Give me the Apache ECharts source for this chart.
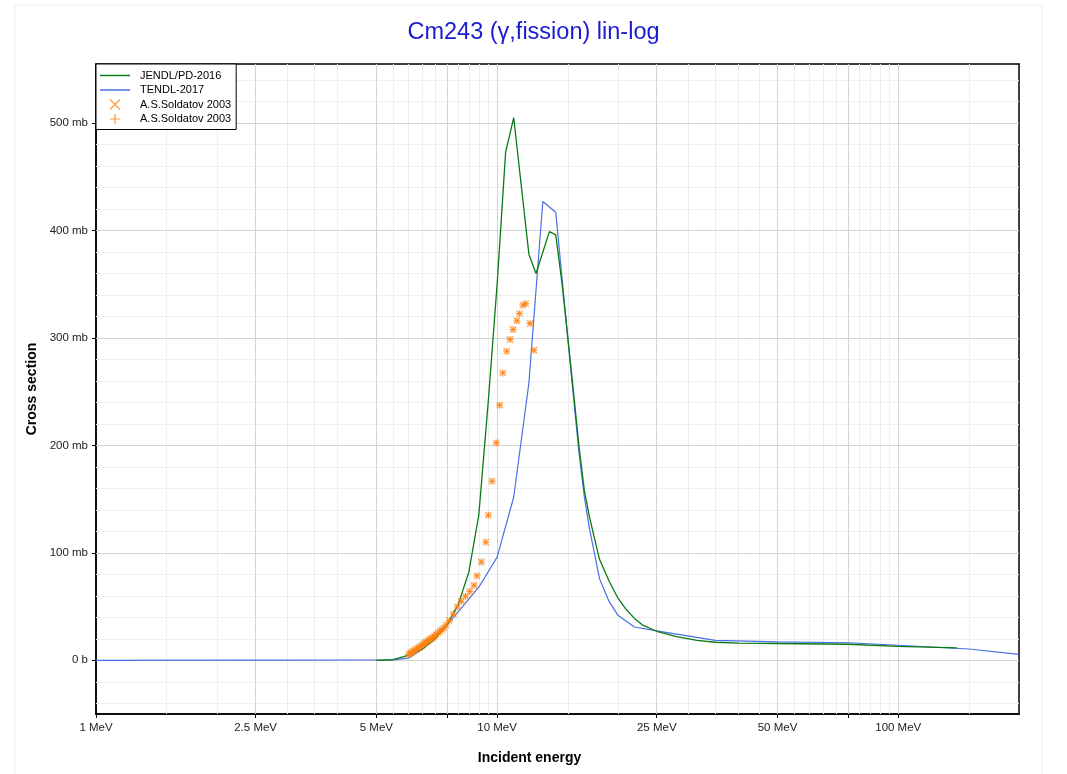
<!DOCTYPE html>
<html><head><meta charset="utf-8">
<script src="https://cdn.jsdelivr.net/npm/echarts@6/dist/echarts.min.js"></script>
<style>html,body{margin:0;padding:0;background:#fff}#c{width:1067px;height:774px}</style>
</head><body><div id="c"></div>
<script>
// ---- data (energy in MeV, cross section in mb) ----
const jendlE  = [5, 5.5, 6, 6.5, 7, 7.5, 8, 8.5, 9, 9.5, 10, 10.5, 11, 12, 12.5, 13.5, 14, 14.5, 15, 15.5, 16, 16.5, 17, 17.5, 18, 19, 20, 21, 22, 23, 25, 28, 31.5, 35, 40, 50, 75, 100, 140];
const jendlXS = [0, 0.5, 4.6, 10.5, 20, 33, 52, 82, 135, 240, 350, 473, 505, 378, 360, 399, 396, 352, 301, 250, 199, 158, 133, 113, 94, 74, 58, 47, 39, 33, 27, 22, 18.6, 16.8, 16, 15.6, 14.9, 13, 11.5];
const tendlE  = [1, 5.5, 6, 6.5, 7, 7.5, 8, 9, 10, 11, 12, 13, 14, 15, 15.5, 16, 16.5, 17, 18, 19, 20, 22, 25, 35, 50, 75, 100, 150, 200];
const tendlXS = [0, 0.3, 2, 10, 20, 33, 45, 68, 96, 152, 258, 427, 417, 300, 245, 193, 152, 122, 76, 55, 42, 31, 27.3, 18.6, 17.2, 16.3, 14, 10.5, 5.5];
const soldE   = [6.02, 6.08, 6.13, 6.18, 6.24, 6.3, 6.36, 6.42, 6.48, 6.55, 6.6, 6.66, 6.72, 6.78, 6.84, 6.9, 6.97, 7.04, 7.12, 7.2, 7.28, 7.36, 7.46, 7.6, 7.78, 7.96, 8.14, 8.34, 8.55, 8.76, 8.91, 9.13, 9.37, 9.51, 9.71, 9.95, 10.15, 10.33, 10.56, 10.77, 10.96, 11.2, 11.37, 11.6, 11.78, 12.08, 12.35];
const soldXS  = [5.5, 6.5, 7.5, 8.5, 9.5, 10.5, 11.5, 12.5, 13.5, 15, 16, 17, 18, 19, 20, 21, 22.5, 24, 25.5, 27, 28.5, 30, 33, 37, 43, 49.6, 54.9, 59.6, 64.2, 69.8, 78.5, 91.5, 110, 135, 166.7, 202.3, 237.4, 267.5, 287.7, 298.6, 307.9, 316, 322.6, 330.5, 332, 313.5, 288.6];

const xLabelVals = [1, 2.5, 5, 10, 25, 50, 100];
const xLabelText = ['1 MeV', '2.5 MeV', '5 MeV', '10 MeV', '25 MeV', '50 MeV', '100 MeV'];
const xMajorVals = [1, 2.5, 5, 7.5, 10, 25, 50, 75, 100];
const xMinorVals = [1.5, 2, 3, 3.5, 4, 5.5, 6, 6.5, 7, 8, 8.5, 9, 9.5, 15, 20, 30, 35, 40, 45, 55, 60, 65, 70, 80, 85, 90, 95, 150];
const yLabelVals = [0, 100, 200, 300, 400, 500];
const yLabelText = ['0 b', '100 mb', '200 mb', '300 mb', '400 mb', '500 mb'];
const yMinorVals = [-40, -20, 20, 40, 60, 80, 120, 140, 160, 180, 220, 240, 260, 280, 320, 340, 360, 380, 420, 440, 460, 480, 520, 540];

const FONT = 'Liberation Sans, Arial, sans-serif';
const GREEN = '#0a7a14', BLUE = '#4a6fe3', ORANGE = '#ff7f0e';
const xAll = xMajorVals.concat(xMinorVals).sort((a, b) => a - b);
const yAll = yLabelVals.concat(yMinorVals).sort((a, b) => a - b);

function xFmt(v) {
  for (let i = 0; i < xLabelVals.length; i++) if (Math.abs(Math.log10(v) - Math.log10(xLabelVals[i])) < 1e-6) return xLabelText[i];
  return '';
}
function yFmt(v) {
  for (let i = 0; i < yLabelVals.length; i++) if (Math.abs(v - yLabelVals[i]) < 1e-6) return yLabelText[i];
  return '';
}

const axLine = { show: true, onZero: false, lineStyle: { color: '#000', width: 1.5 } };
const tickStyle = { color: '#000', width: 1 };
const xBase = { type: 'log', logBase: 10, min: 1, max: 200, gridIndex: 0, splitLine: { show: false }, minorTick: { show: false }, minorSplitLine: { show: false } };
const yBase = { type: 'value', min: -50, max: 555, gridIndex: 0, splitLine: { show: false }, minorTick: { show: false }, minorSplitLine: { show: false } };

const gridLines = [];
xMinorVals.forEach(v => gridLines.push({ xAxis: v, lineStyle: { color: '#eeeeee', width: 1, type: 'solid' } }));
yMinorVals.forEach(v => gridLines.push({ yAxis: v, lineStyle: { color: '#eeeeee', width: 1, type: 'solid' } }));
xMajorVals.filter(v => v > 1).forEach(v => gridLines.push({ xAxis: v, lineStyle: { color: '#d4d4d4', width: 1, type: 'solid' } }));
yLabelVals.forEach(v => gridLines.push({ yAxis: v, lineStyle: { color: '#d4d4d4', width: 1, type: 'solid' } }));

const xSym = 'path://M0,0L10,10M10,0L0,10';
const pSym = 'path://M5,0L5,10M0,5L10,5';
const lineIcon = 'path://M0,0H30V1.5H0Z';
const soldData = soldE.map((e, i) => [e, soldXS[i]]);

const chart = echarts.init(document.getElementById('c'), null, { renderer: 'canvas' });
chart.setOption({
  animation: false,
  backgroundColor: '#fff',
  textStyle: { fontFamily: FONT },
  graphic: [{ type: 'rect', shape: { x: 15, y: 5, width: 1027, height: 800 }, style: { fill: 'none', stroke: '#eeeeee', lineWidth: 1 }, z: -10, silent: true }],
  title: { text: 'Cm243 (γ,fission) lin-log', left: 'center', top: 21, padding: 0,
    textStyle: { color: '#1a1ad0', fontSize: 23.5, fontWeight: 'normal', fontFamily: FONT } },
  legend: {
    orient: 'vertical', left: 96, top: 64, padding: [5, 2, 4, 4], itemGap: 1.5,
    itemWidth: 30, itemHeight: 10, backgroundColor: '#fff', borderColor: '#000', borderWidth: 1,
    textStyle: { fontSize: 11, color: '#000', fontFamily: FONT, lineHeight: 13, padding: [0, 0, 0, 5] },
    data: [
      { name: 'JENDL/PD-2016', icon: lineIcon, itemStyle: { color: GREEN, borderWidth: 0 } },
      { name: 'TENDL-2017', icon: lineIcon, itemStyle: { color: BLUE, borderWidth: 0 } },
      { name: 'A.S.Soldatov 2003 ', icon: xSym, itemStyle: { color: 'rgba(0,0,0,0)', borderColor: ORANGE, borderWidth: 1.2 } },
      { name: 'A.S.Soldatov 2003', icon: pSym, itemStyle: { color: 'rgba(0,0,0,0)', borderColor: ORANGE, borderWidth: 1.2 } }
    ]
  },
  grid: { left: 96, right: 48, top: 64, bottom: 60, containLabel: false },
  xAxis: [
    Object.assign({}, xBase, { position: 'bottom', axisLine: axLine,
      axisTick: { show: true, inside: true, length: 4, customValues: xAll, lineStyle: tickStyle },
      axisLabel: { show: false } }),
    Object.assign({}, xBase, { position: 'bottom', axisLine: axLine,
      axisTick: { show: true, inside: false, length: 4, customValues: xMajorVals, lineStyle: tickStyle },
      axisLabel: { show: true, customValues: xLabelVals, formatter: xFmt, margin: 8, fontSize: 11.5, color: '#222', fontFamily: FONT },
      name: 'Incident energy', nameLocation: 'middle', nameGap: 37,
      nameTextStyle: { fontSize: 14, fontWeight: 'bold', color: '#000', fontFamily: FONT, padding: [0, 56, 0, 0] } }),
    Object.assign({}, xBase, { position: 'top', axisLine: axLine,
      axisTick: { show: true, inside: true, length: 4, customValues: xAll, lineStyle: tickStyle },
      axisLabel: { show: false } })
  ],
  yAxis: [
    Object.assign({}, yBase, { position: 'left', axisLine: axLine,
      axisTick: { show: true, inside: true, length: 4, customValues: yAll, lineStyle: tickStyle },
      axisLabel: { show: false } }),
    Object.assign({}, yBase, { position: 'left', axisLine: axLine,
      axisTick: { show: true, inside: false, length: 4, customValues: yLabelVals, lineStyle: tickStyle },
      axisLabel: { show: true, customValues: yLabelVals, formatter: yFmt, margin: 8, fontSize: 11.5, color: '#222', fontFamily: FONT },
      name: 'Cross section', nameLocation: 'middle', nameGap: 54,
      nameTextStyle: { fontSize: 14, fontWeight: 'bold', color: '#000', fontFamily: FONT } }),
    Object.assign({}, yBase, { position: 'right', axisLine: axLine,
      axisTick: { show: true, inside: true, length: 4, customValues: yAll, lineStyle: tickStyle },
      axisLabel: { show: false } })
  ],
  series: [
    { name: '_grid', type: 'line', xAxisIndex: 0, yAxisIndex: 0, data: [], silent: true, z: 1,
      markLine: { silent: true, symbol: ['none', 'none'], label: { show: false }, z: 1, animation: false, data: gridLines } },
    { name: 'JENDL/PD-2016', type: 'line', xAxisIndex: 0, yAxisIndex: 0, z: 4, symbol: 'none', showSymbol: false,
      color: GREEN, lineStyle: { color: GREEN, width: 1.3 }, data: jendlE.map((e, i) => [e, jendlXS[i]]) },
    { name: 'TENDL-2017', type: 'line', xAxisIndex: 0, yAxisIndex: 0, z: 3, symbol: 'none', showSymbol: false,
      color: BLUE, lineStyle: { color: BLUE, width: 1.2 }, data: tendlE.map((e, i) => [e, tendlXS[i]]) },
    { name: 'A.S.Soldatov 2003 ', type: 'scatter', xAxisIndex: 0, yAxisIndex: 0, z: 5, symbol: xSym, symbolSize: 6,
      color: ORANGE, itemStyle: { color: 'rgba(0,0,0,0)', borderColor: ORANGE, borderWidth: 1.2 }, data: soldData },
    { name: 'A.S.Soldatov 2003', type: 'scatter', xAxisIndex: 0, yAxisIndex: 0, z: 5, symbol: pSym, symbolSize: 7,
      color: ORANGE, itemStyle: { color: 'rgba(0,0,0,0)', borderColor: ORANGE, borderWidth: 1.2 }, data: soldData }
  ]
});
</script>
</body></html>
